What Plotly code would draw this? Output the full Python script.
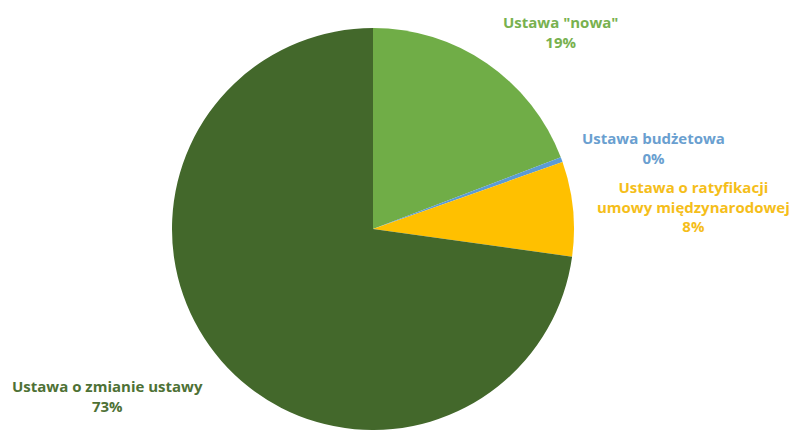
import plotly.graph_objects as go

# Types of legislative acts (share of all acts)
categories = ['Ustawa "nowa"', "Ustawa budżetowa",
              "Ustawa o ratyfikacji<br>umowy międzynarodowej",
              "Ustawa o zmianie ustawy"]
counts = [96, 2, 38, 364]
slice_colors = ["#70AD47", "#5B9BD5", "#FFC000", "#43682B"]
text_colors = ["#78B14F", "#6A9FD0", "#F5BE1A", "#4E7135"]

W, H = 792, 430
total = sum(counts)

fig = go.Figure(go.Pie(
    labels=categories,
    values=counts,
    sort=False,
    direction="clockwise",
    rotation=0,
    marker=dict(colors=slice_colors, line=dict(width=0)),
    textinfo="none",
    hoverinfo="label+percent",
    showlegend=False,
    domain=dict(x=[171 / W, 575 / W], y=[0, 1 - 28 / H]),
))

# label centres in pixels (x, y from top)
label_pos = [(560, 32), (653, 148), (693, 206), (108, 396)]
for cat, n, col, (px, py) in zip(categories, counts, text_colors, label_pos):
    pct = round(100 * n / total)
    fig.add_annotation(
        x=px / W, y=1 - py / H, xref="paper", yref="paper",
        xanchor="center", yanchor="middle", showarrow=False,
        text=f"<b>{cat}<br>{pct}%</b>",
        font=dict(family="Open Sans", size=15, color=col),
        align="center",
    )

fig.update_layout(
    width=W, height=H,
    margin=dict(l=0, r=0, t=0, b=0),
    paper_bgcolor="white", plot_bgcolor="white",
)

fig.write_html("out.html")
